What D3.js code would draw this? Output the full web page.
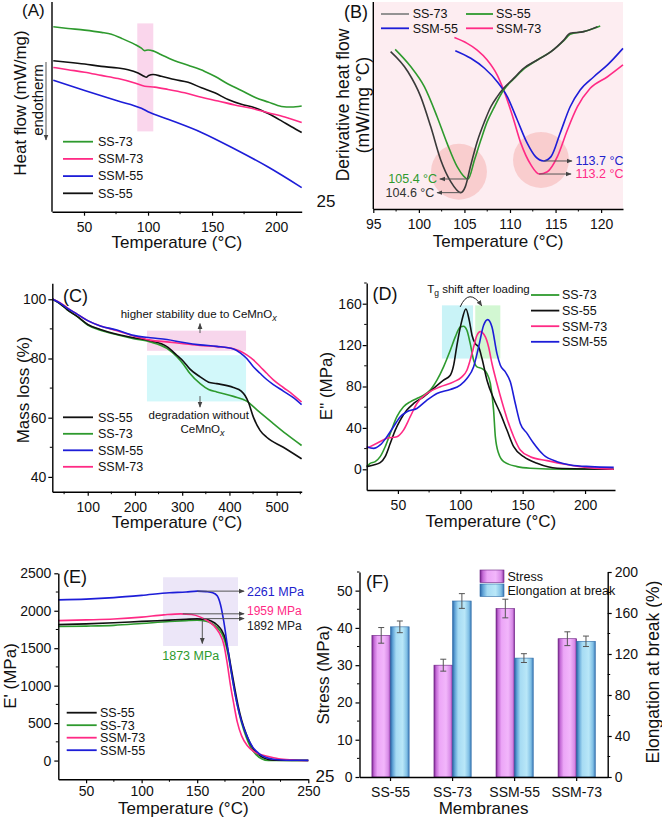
<!DOCTYPE html>
<html><head><meta charset="utf-8">
<script src="https://cdn.jsdelivr.net/npm/d3@7"></script>
<style>
body{margin:0;background:#fff;}
svg{display:block;}
</style></head><body>
<svg id="chart" width="662" height="823"></svg>
<script>
// ---------------- DATA ----------------
// (A) DSC heat flow  [temperature °C, relative heat flow]
const heatSS73  = [[26,88.2],[37.5,87.4],[50.5,86.6],[63.5,85.5],[71.4,84.6],[79.2,82.7],[89.6,79.8],[94.8,78],[97.4,76.8],[100,77.1],[103.9,76.7],[110.4,74.8],[120.8,72],[131.3,69.8],[144.3,66.9],[152.1,64.6],[162.5,60.9],[172.9,57.8],[183.3,54.6],[193.8,52.3],[204.2,50.2],[212,49.9],[220,50.4]];
const heatSS55  = [[26,72],[37.5,71.3],[50.5,70.4],[63.5,69.3],[76.6,68.5],[84.4,67.7],[92.2,66.1],[96.9,64.6],[98.7,64.1],[100.5,65],[103.9,65.4],[110.4,64.6],[120.8,63],[131.3,61.7],[141.7,59.1],[152.1,56.7],[162.5,53.5],[172.9,51.2],[183.3,49.6],[193.8,46.8],[204.2,43.3],[212,40.5],[220,37.8]];
const heatSSM73 = [[26,68.8],[37.5,67.7],[50.5,66.5],[63.5,65],[76.6,63.5],[89.6,61.4],[97.4,59.8],[105.2,59.4],[115.6,58.3],[128.6,56.7],[141.7,54.6],[154.7,52.8],[167.7,50.9],[180.7,49.3],[193.8,47.2],[206.8,45.2],[220,42.5]];
const heatSSM55 = [[26,62.7],[50.5,57.8],[76.6,52.8],[94.8,49.3],[100,47.7],[115.6,44.1],[141.7,37.8],[167.7,29.9],[193.8,21.3],[220,11.5]];
const heatBand  = [91.6, 104.1, 38.3, 89.8];

// (B) derivative heat flow
const derivSS73  = [[96.9,76],[98.8,66.3],[100.2,54.3],[101.3,39.8],[102.4,23.7],[103.5,13.2],[104.6,7.9],[105.1,10.8],[105.7,21.3],[106.4,32.5],[107.2,42.2],[107.9,49.4],[108.6,54.3],[109.3,58.3],[110.4,63.1],[111.5,68],[113,72],[114.5,76],[115.9,81.6],[116.6,84.9],[118.1,85.7],[119.6,88.1]];
const derivSS55  = [[97.4,77.1],[99.1,68.8],[100.6,59.1],[102,44.6],[103.1,31.7],[104.2,20.5],[105.4,14.5],[106.1,23.7],[106.8,33.3],[107.5,42.2],[108.2,48.6],[109.3,57.5],[110.4,62.8],[111.5,67.6],[113,72],[114.5,76],[115.9,81.3],[116.6,84.4],[118.1,85.7],[119.9,88.4]];
const derivSSM55 = [[104,76.5],[105.7,72.8],[107.2,68],[108.6,61.5],[109.7,54.3],[110.8,43],[111.9,31.7],[112.8,25.3],[113.7,23.2],[114.5,25.3],[115.5,36.6],[116.6,49.4],[117.7,57.5],[119.2,63.9],[120.7,69.6],[122.4,77.6]];
const derivSSM73 = [[103.9,82.8],[105.3,80],[106.4,76.8],[107.5,72],[108.6,64.7],[109.3,57.5],[110.3,44.6],[111.2,31.7],[112.3,21.3],[113.2,16.9],[114.1,18],[115.2,25.3],[116.3,38.2],[117.4,49.4],[118.8,58.3],[120.7,63.9],[122.4,69.6]];
const derivPeaks = [[105.4,14.5,"105.4 °C"],[104.6,7.9,"104.6 °C"],[113.7,23.2,"113.7 °C"],[113.2,16.9,"113.2 °C"]];
const derivCircles = [[104.4,18],[113.4,23.7]];

// (C) TGA mass loss
const massSS55  = [[26,100],[42.3,98.4],[56.3,96.5],[77.5,94.2],[100,91.5],[126.8,89.8],[162,88.2],[197.2,87],[232.4,86],[267.6,84],[288.7,81.1],[302.8,79],[316,76.5],[338,73.8],[356,72],[373.2,71.5],[408.5,70.2],[425,69],[433,67.5],[440,65.3],[450.7,60.2],[464.8,55.7],[478.9,53.4],[514.1,50],[552.8,46.1]];
const massSS73  = [[26,100],[42.3,98.4],[56.3,96.5],[77.5,94.2],[100,91.3],[126.8,89.5],[162,88],[197.2,86.7],[232.4,85.6],[267.6,83.4],[288.7,80.6],[302.8,78],[316,75],[338,71.5],[356,69.5],[373.2,68.7],[408.5,67.2],[436.6,65.6],[460,62.4],[490,58.4],[520,54.5],[552.8,50.6]];
const massSSM55 = [[26,100],[42.3,98.6],[56.3,97],[77.5,95],[100,92.8],[126.8,91],[162,89.6],[197.2,87.8],[232.4,87],[267.6,86.4],[302.8,85.4],[338,84.6],[373.2,84.1],[408.5,83.2],[422,82],[436.6,80],[450.7,77.2],[464.8,75],[478.9,72.9],[493,71.2],[514.1,69],[533,67],[552.8,64.4]];
const massSSM73 = [[26,100],[42.3,98.8],[56.3,97.2],[77.5,95],[100,92.8],[126.8,91],[162,89.4],[197.2,87.6],[232.4,86.2],[267.6,85.6],[302.8,85],[338,84.4],[373.2,84],[408.5,83.3],[422,82.5],[436.6,81.2],[450.7,79.5],[464.8,77.3],[478.9,75],[493,72.8],[514.1,70.2],[533,68],[552.8,65.3]];
const massBoxes = [[225.4,435.2,82.6,89.4],[225.4,435.2,65.5,81.1]];

// (D) loss modulus E''
const lossSS73  = [[25,2.6],[27.8,5.8],[31.8,7.4],[35.8,12.2],[39.8,21.8],[43.9,34.7],[49.2,50.8],[54.5,60.4],[59.9,65.2],[65.2,68.4],[70.6,71.6],[75.9,76.5],[81.3,86.1],[86.6,99],[92,115],[96,127.9],[100,137.5],[102.7,138.2],[105.3,134.3],[108,121.4],[110.7,105.4],[113.4,99],[117.4,97.3],[121.4,92.5],[124.1,82.9],[126.7,57.2],[128.1,31.5],[130.7,15.4],[134.8,7.4],[145.5,2.6],[156.1,1],[182.9,0],[223,0]];
const lossSS55  = [[25,2.6],[30.5,4.2],[35.8,6.4],[39.8,12.2],[43.9,25.1],[47.9,37.9],[51.9,47.6],[57.2,57.2],[62.6,63.6],[70.6,70],[78.6,78.1],[86.6,86.1],[92,90.9],[94.7,100.6],[97.3,119.8],[101.3,143.9],[104.5,154.9],[107.2,143.9],[109.4,129.5],[112,121.4],[114.7,118.2],[117.4,107],[121.4,86.1],[126.7,68.4],[132.1,54],[137.4,37.9],[142.8,21.8],[150.8,12.2],[161.5,5.8],[177.5,1],[223,0]];
const lossSSM73 = [[25,20.2],[33.2,25.1],[41.2,29.9],[49.2,31.5],[54.5,37.9],[59.9,50.8],[65.2,63.6],[73.3,73.3],[84,79.7],[94.7,84.5],[101.3,89.3],[105.3,95.7],[109.4,111.8],[113.4,129.5],[116,133],[120.1,127.9],[122.7,118.2],[125.4,102.2],[129.4,82.9],[133.4,65.2],[137.4,49.2],[142.8,31.5],[148.1,18.6],[156.1,12.2],[169.5,8.4],[182.9,5.1],[196.3,2.6],[223,0]];
const lossSSM55 = [[25,21.8],[30.5,20.2],[35.8,23.5],[41.2,31.5],[46.5,41.1],[51.9,50.8],[57.2,55.6],[65.2,58.8],[73.3,66.8],[81.3,73.3],[92,77.1],[100,81.3],[105.3,87.7],[110.7,99],[114.7,118.2],[118.7,139.1],[122,144.6],[125.4,137.5],[129.4,111.8],[132.1,100.6],[136.1,94.1],[140.1,84.5],[144.1,63.6],[148.1,44.3],[153.5,34.7],[158.8,25.1],[166.8,13.8],[177.5,7.4],[188.2,4.2],[204.3,2.6],[223,1.9]];
const lossBoxes = [[85.3,110.2,107,158.4],[112,132.1,107,158.4]];

// (E) storage modulus E'
const storSS55  = [[25,1815],[50,1825],[75,1840],[100,1858],[125,1875],[140,1886],[150,1892],[158,1885],[163,1860],[168,1810],[172,1740],[175,1640],[178,1450],[181,1200],[184,950],[187,720],[190,540],[194,360],[198,220],[203,110],[208,50],[214,15],[220,5],[235,3],[250,0]];
const storSS73  = [[25,1790],[50,1795],[75,1805],[100,1830],[125,1857],[140,1868],[150,1873],[158,1860],[163,1830],[168,1775],[172,1700],[175,1590],[178,1400],[181,1150],[184,900],[187,680],[190,500],[194,320],[198,180],[203,80],[208,25],[214,0],[220,0],[235,3],[250,2]];
const storSSM73 = [[25,1868],[50,1878],[75,1890],[100,1915],[120,1945],[135,1959],[145,1950],[153,1915],[160,1860],[165,1800],[170,1700],[174,1550],[177,1300],[180,1000],[183,750],[186,520],[190,330],[195,200],[200,130],[207,80],[215,50],[225,20],[240,5],[250,0]];
const storSSM55 = [[25,2145],[50,2155],[75,2175],[100,2205],[125,2240],[140,2250],[150,2262],[158,2255],[164,2240],[168,2200],[171,2080],[174,1850],[177,1550],[180,1250],[183,980],[186,750],[190,520],[195,320],[200,180],[206,90],[212,40],[220,15],[235,5],[250,3]];
const storBox = [119.3, 186.7, 1530, 2447];

// (F) mechanical properties
const membranes   = ["SS-55","SS-73","SSM-55","SSM-73"];
const stress      = [38, 30, 45.2, 37.1];
const stressErr   = [2.1, 1.6, 2.5, 1.85];
const elongation  = [146.5, 171.7, 116, 132.4];
const elongErr    = [5.7, 7.2, 4.3, 5.1];

// ---------------- STYLE ----------------
const FONT = "'Liberation Sans', Arial, Helvetica, sans-serif";
const C_GREEN = "#2e9a2e", C_PINK = "#ff2a85", C_BLUE = "#1d1dd8", C_BLACK = "#111111", C_GRAY = "#3a3a3a";
const svg = d3.select("#chart").attr("font-family", FONT);
const fmt = d3.format("d");

const defs = svg.append("defs");
defs.append("marker").attr("id","arr").attr("viewBox","0 0 10 10").attr("refX",9).attr("refY",5)
  .attr("markerWidth",6).attr("markerHeight",6).attr("markerUnits","userSpaceOnUse").attr("orient","auto")
  .append("path").attr("d","M0,1 L10,5 L0,9 Z").attr("fill","#444");

function curve(g, x, y, data, color, w=1.6){
  g.append("path").datum(data).attr("fill","none").attr("stroke",color).attr("stroke-width",w)
   .attr("stroke-linejoin","round")
   .attr("d", d3.line().x(d=>x(d[0])).y(d=>y(d[1])).curve(d3.curveMonotoneX));
}
function styleAxis(a){
  a.attr("font-family",FONT).attr("font-size",14);
  a.select(".domain").attr("stroke","#000").attr("stroke-width",1.4);
  a.selectAll(".tick line").attr("stroke","#000").attr("stroke-width",1.2);
  a.selectAll(".tick text").attr("fill","#111");
}
function xAxis(g, x, y0, majors, minors, pad){
  const a = g.append("g").attr("transform",`translate(0,${y0})`)
    .call(d3.axisBottom(x).tickValues(majors).tickFormat(fmt).tickSize(4).tickSizeOuter(0).tickPadding(pad));
  styleAxis(a);
  a.selectAll(".mn").data(minors).join("line").attr("class","mn")
    .attr("x1",d=>x(d)).attr("x2",d=>x(d)).attr("y1",0).attr("y2",2.5).attr("stroke","#000").attr("stroke-width",1);
  return a;
}
function yAxis(g, y, x0, majors, minors, pad, right=false){
  const gen = right ? d3.axisRight(y) : d3.axisLeft(y);
  const a = g.append("g").attr("transform",`translate(${x0},0)`)
    .call(gen.tickValues(majors).tickFormat(fmt).tickSize(4).tickSizeOuter(0).tickPadding(pad));
  styleAxis(a);
  a.selectAll(".mn").data(minors).join("line").attr("class","mn")
    .attr("y1",d=>y(d)).attr("y2",d=>y(d)).attr("x1",0).attr("x2",right?2.5:-2.5).attr("stroke","#000").attr("stroke-width",1);
  return a;
}
function plainY(g, x0, r){
  g.append("line").attr("x1",x0).attr("x2",x0).attr("y1",r[0]).attr("y2",r[1]).attr("stroke","#000").attr("stroke-width",1.4);
}
function txt(g, x, y, s, opt={}){
  const t = g.append("text").attr("x",x).attr("y",y).text(s)
    .attr("font-size",opt.fs||17).attr("fill",opt.fill||"#111")
    .attr("text-anchor",opt.anchor||"start");
  if(opt.dy) t.attr("dy",opt.dy);
  if(opt.rot) t.attr("transform",`rotate(-90,${x},${y})`);
  return t;
}
function legend(g, items, x1, x2, tx, y0, dy, fs=12.5){
  items.forEach(([name,color],i)=>{
    const y = y0 + i*dy;
    g.append("line").attr("x1",x1).attr("x2",x2).attr("y1",y).attr("y2",y).attr("stroke",color).attr("stroke-width",1.8);
    txt(g, tx, y, name, {fs, dy:"0.35em"});
  });
}
function arrow(g, x1,y1,x2,y2){
  g.append("line").attr("x1",x1).attr("y1",y1).attr("x2",x2).attr("y2",y2)
   .attr("stroke","#555").attr("stroke-width",1).attr("marker-end","url(#arr)");
}

// ---------------- PANEL A ----------------
{
  const g = svg.append("g");
  const x = d3.scaleLinear().domain([25,220]).range([52,301.7]);
  const y = d3.scaleLinear().domain([0,100]).range([211.7,2]);
  g.append("rect").attr("x",x(heatBand[0])).attr("width",x(heatBand[1])-x(heatBand[0]))
    .attr("y",y(heatBand[3])).attr("height",y(heatBand[2])-y(heatBand[3])).attr("fill","#fad6ec");
  curve(g,x,y,heatSS73,C_GREEN);
  curve(g,x,y,heatSS55,C_BLACK);
  curve(g,x,y,heatSSM73,C_PINK);
  curve(g,x,y,heatSSM55,C_BLUE);
  plainY(g, 52, y.range());
  xAxis(g, x, 211.7, [50,100,150,200], [75,125,175], 6);
  txt(g, x(122.5), 248, "Temperature (°C)", {anchor:"middle"});
  txt(g, 26, 103, "Heat flow (mW/mg)", {anchor:"middle", rot:true});
  txt(g, 43, 100, "endotherm", {anchor:"middle", rot:true, fs:15});
  arrow(g, 46, 62, 46, 140);
  legend(g, [["SS-73",C_GREEN],["SSM-73",C_PINK],["SSM-55",C_BLUE],["SS-55",C_BLACK]], 63, 93, 98, 141.7, 17.2);
  txt(g, 22, 15.5, "(A)", {fs:17});
  txt(g, 316.5, 206.7, "25", {fs:17});
}

// ---------------- PANEL B ----------------
{
  const g = svg.append("g");
  const x = d3.scaleLinear().domain([95,122.4]).range([373.3,623]);
  const y = d3.scaleLinear().domain([0,100]).range([209,2]);
  g.append("rect").attr("x",x.range()[0]).attr("width",x.range()[1]-x.range()[0])
    .attr("y",y.range()[1]).attr("height",y.range()[0]-y.range()[1]).attr("fill","#fdedf1");
  g.selectAll(".circ").data(derivCircles).join("circle").attr("class","circ")
    .attr("cx",d=>x(d[0])).attr("cy",d=>y(d[1])).attr("r",d=>x(d[0]+3.07)-x(d[0]))
    .attr("fill","#f8c4c6").attr("opacity",0.8);
  curve(g,x,y,derivSSM73,C_PINK);
  curve(g,x,y,derivSSM55,C_BLUE);
  curve(g,x,y,derivSS55,C_GREEN);
  curve(g,x,y,derivSS73,C_GRAY);
  plainY(g, 373.3, y.range());
  xAxis(g, x, 209, [95,100,105,110,115,120], [97.5,102.5,107.5,112.5,117.5], 6);
  txt(g, x(108.7), 247, "Temperature (°C)", {anchor:"middle"});
  txt(g, 349, 105, "Derivative heat flow", {anchor:"middle", rot:true, fs:17.5});
  txt(g, 368.5, 105, "(mW/mg °C)", {anchor:"middle", rot:true, fs:17.5});
  // peak annotations
  const pc = [C_GREEN, "#333", "#2222cc", C_PINK];
  const tip = [102.3, 102.0, 116.8, 116.7];
  const lab = [102.0, 101.7, 117.2, 117.2];
  derivPeaks.forEach((p,i)=>{
    arrow(g, x(p[0]), y(p[1]), x(tip[i]), y(p[1]));
    txt(g, x(lab[i]), y(p[1]), p[2], {fs:12.5, fill:pc[i], dy:"0.35em", anchor: i<2 ? "end" : "start"});
  });
  // legend
  const lg = [["SS-73","#888",381,409,412.7,14],["SS-55",C_GREEN,466,493,496,14],["SSM-55",C_BLUE,381,409,412.7,28.3],["SSM-73",C_PINK,466,493,496,28.3]];
  lg.forEach(l=>{
    g.append("line").attr("x1",l[2]).attr("x2",l[3]).attr("y1",l[5]).attr("y2",l[5]).attr("stroke",l[1]).attr("stroke-width",1.8);
    txt(g, l[4], l[5], l[0], {fs:12.5, dy:"0.35em"});
  });
  txt(g, 344, 17.5, "(B)", {fs:18});
}

// ---------------- PANEL C ----------------
{
  const g = svg.append("g");
  const x = d3.scaleLinear().domain([25,553]).range([52.3,301.7]);
  const y = d3.scaleLinear().domain([35,105.4]).range([491.7,283.3]);
  const boxCol = ["#f7d6ec","#d2f8fa"];
  massBoxes.forEach((b,i)=>{
    g.append("rect").attr("x",x(b[0])).attr("width",x(b[1])-x(b[0])).attr("y",y(b[3])).attr("height",y(b[2])-y(b[3])).attr("fill",boxCol[i]);
  });
  curve(g,x,y,massSS73,C_GREEN);
  curve(g,x,y,massSS55,C_BLACK);
  curve(g,x,y,massSSM73,C_PINK);
  curve(g,x,y,massSSM55,C_BLUE);
  yAxis(g, y, 52.3, [40,60,80,100], [50,70,90], 2);
  xAxis(g, x, 491.7, [100,200,300,400,500], [50,150,250,350,450,550], 6);
  txt(g, x(289), 528.3, "Temperature (°C)", {anchor:"middle"});
  txt(g, 29, 390, "Mass loss (%)", {anchor:"middle", rot:true});
  const t1 = txt(g, x(335), y(93.6), "higher stability due to CeMnO", {anchor:"middle", fs:11.5});
  t1.append("tspan").attr("font-style","italic").attr("font-size",9).attr("dy",3).text("x");
  arrow(g, x(337.7), y(88.6), x(337.7), y(91.8));
  arrow(g, x(337.7), y(67.3), x(337.7), y(63.6));
  txt(g, x(335), y(59.5), "degradation without", {anchor:"middle", fs:11.5});
  const t2 = txt(g, x(343), y(54.7), "CeMnO", {anchor:"middle", fs:11.5});
  t2.append("tspan").attr("font-style","italic").attr("font-size",9).attr("dy",3).text("x");
  legend(g, [["SS-55",C_BLACK],["SS-73",C_GREEN],["SSM-55",C_BLUE],["SSM-73",C_PINK]], 63, 93, 98, 417.3, 16.5);
  txt(g, 63, 301.7, "(C)", {fs:18});
}

// ---------------- PANEL D ----------------
{
  const g = svg.append("g");
  const x = d3.scaleLinear().domain([25,224]).range([366.7,615]);
  const y = d3.scaleLinear().domain([-20,180]).range([490,283]);
  const boxCol = ["#c9f3f7","#d2f7d2"];
  lossBoxes.forEach((b,i)=>{
    g.append("rect").attr("x",x(b[0])).attr("width",x(b[1])-x(b[0])).attr("y",y(b[3])).attr("height",y(b[2])-y(b[3])).attr("fill",boxCol[i]);
  });
  curve(g,x,y,lossSS73,C_GREEN);
  curve(g,x,y,lossSS55,C_BLACK);
  curve(g,x,y,lossSSM73,C_PINK);
  curve(g,x,y,lossSSM55,C_BLUE);
  yAxis(g, y, 366.7, [0,40,80,120,160], [20,60,100,140,180], 1);
  xAxis(g, x, 490, [50,100,150,200], [75,125,175], 6);
  txt(g, x(124.5), 526.7, "Temperature (°C)", {anchor:"middle"});
  txt(g, 332, 386, "E\" (MPa)", {anchor:"middle", rot:true});
  // Tg annotation
  const t = txt(g, x(114.6), 293.3, "T", {anchor:"middle", fs:11.5});
  t.append("tspan").attr("font-size",8.5).attr("dy",3).text("g");
  t.append("tspan").attr("dy",-3).text(" shift after loading");
  g.append("path").attr("d",`M${x(99.9)},${y(156.9)} Q${x(107)},${y(176)} ${x(117.2)},${y(157.9)}`)
    .attr("fill","none").attr("stroke","#222").attr("stroke-width",1).attr("marker-end","url(#arr)");
  legend(g, [["SS-73",C_GREEN],["SS-55",C_BLACK],["SSM-73",C_PINK],["SSM-55",C_BLUE]], 531, 559.3, 562, 295, 15.6);
  txt(g, 372.5, 300, "(D)", {fs:18});
}

// ---------------- PANEL E ----------------
{
  const g = svg.append("g");
  const x = d3.scaleLinear().domain([25,250]).range([58.3,308.3]);
  const y = d3.scaleLinear().domain([-250,2500]).range([779.3,573.3]);
  g.append("rect").attr("x",x(storBox[0])).attr("width",x(storBox[1])-x(storBox[0]))
    .attr("y",y(storBox[3])).attr("height",y(storBox[2])-y(storBox[3])).attr("fill","#ece6f8");
  curve(g,x,y,storSS73,C_GREEN);
  curve(g,x,y,storSS55,C_BLACK);
  curve(g,x,y,storSSM73,C_PINK);
  curve(g,x,y,storSSM55,C_BLUE);
  yAxis(g, y, 58.3, [0,500,1000,1500,2000,2500], [250,750,1250,1750,2250], 3);
  xAxis(g, x, 779.3, [50,100,150,200,250], [75,125,175,225], 3);
  txt(g, x(137.5), 814, "Temperature (°C)", {anchor:"middle"});
  txt(g, 16, 676, "E' (MPa)", {anchor:"middle", rot:true});
  arrow(g, x(150), y(2262), x(192.2), y(2262));
  arrow(g, x(137), y(1959), x(192.2), y(1959));
  arrow(g, x(155), y(1895), x(192.2), y(1895));
  arrow(g, x(154.6), y(1873), x(154.6), y(1563));
  txt(g, x(194.8), y(2262), "2261 MPa", {fs:12.5, fill:"#2222cc", dy:"0.35em"});
  txt(g, x(194.8), y(2005), "1959 MPa", {fs:12, fill:C_PINK, dy:"0.35em"});
  txt(g, x(194.8), y(1805), "1892 MPa", {fs:12, fill:"#222", dy:"0.35em"});
  txt(g, x(144.2), y(1343), "1873 MPa", {fs:12.5, fill:C_GREEN, anchor:"middle"});
  legend(g, [["SS-55",C_BLACK],["SS-73",C_GREEN],["SSM-73",C_PINK],["SSM-55",C_BLUE]], 66.7, 96.7, 100, 712.7, 12.5);
  txt(g, 63, 583.3, "(E)", {fs:18});
  txt(g, 315.5, 781.7, "25", {fs:17});
}

// ---------------- PANEL F ----------------
{
  const g = svg.append("g");
  const x = d3.scaleBand().domain(membranes).range([359.5,607.7]).padding(0);
  const yL = d3.scaleLinear().domain([0,55]).range([777,572]);
  const yR = d3.scaleLinear().domain([0,200]).range([777,572]);
  const bw = x.bandwidth()*0.3;
  const gs = defs.append("linearGradient").attr("id","gS");
  [[0,"#7a2590"],[0.12,"#c46ad6"],[0.3,"#eca6f7"],[0.65,"#f2b6fb"],[0.88,"#d88be7"],[1,"#8a34a0"]]
    .forEach(s=>gs.append("stop").attr("offset",s[0]).attr("stop-color",s[1]));
  const ge = defs.append("linearGradient").attr("id","gE");
  [[0,"#2a66a6"],[0.12,"#5fa2d6"],[0.3,"#a6dbf3"],[0.65,"#b9e7f8"],[0.88,"#7fbfe5"],[1,"#3a78b6"]]
    .forEach(s=>ge.append("stop").attr("offset",s[0]).attr("stop-color",s[1]));
  const c = d => x(d) + x.bandwidth()/2;
  g.selectAll(".bs").data(membranes).join("rect").attr("class","bs")
    .attr("x",d=>c(d)-bw).attr("width",bw).attr("y",(d,i)=>yL(stress[i])).attr("height",(d,i)=>yL(0)-yL(stress[i]))
    .attr("fill","url(#gS)").attr("stroke","#6a1f80").attr("stroke-width",0.6);
  g.selectAll(".be").data(membranes).join("rect").attr("class","be")
    .attr("x",d=>c(d)).attr("width",bw).attr("y",(d,i)=>yR(elongation[i])).attr("height",(d,i)=>yR(0)-yR(elongation[i]))
    .attr("fill","url(#gE)").attr("stroke","#2c6aa6").attr("stroke-width",0.6);
  function errbar(xc, top, bot){
    g.append("line").attr("x1",xc).attr("x2",xc).attr("y1",top).attr("y2",bot).attr("stroke","#555").attr("stroke-width",1);
    [top,bot].forEach(v=>g.append("line").attr("x1",xc-3).attr("x2",xc+3).attr("y1",v).attr("y2",v).attr("stroke","#555").attr("stroke-width",1));
  }
  membranes.forEach((m,i)=>{
    errbar(c(m)-bw/2, yL(stress[i]+stressErr[i]), yL(stress[i]-stressErr[i]));
    errbar(c(m)+bw/2, yR(elongation[i]+elongErr[i]), yR(elongation[i]-elongErr[i]));
  });
  yAxis(g, yL, 359.5, [0,10,20,30,40,50], [5,15,25,35,45,55], 3);
  yAxis(g, yR, 607.7, [0,40,80,120,160,200], [20,60,100,140,180], 3, true);
  const xa = g.append("g").attr("transform","translate(0,777)")
    .call(d3.axisBottom(x).tickSize(4).tickSizeOuter(0).tickPadding(6));
  styleAxis(xa);
  txt(g, 483.6, 814, "Membranes", {anchor:"middle"});
  txt(g, 329, 675, "Stress (MPa)", {anchor:"middle", rot:true});
  txt(g, 659, 672, "Elongation at break (%)", {anchor:"middle", rot:true, fs:17.5});
  // legend
  g.append("rect").attr("x",480).attr("y",570).attr("width",24).attr("height",12.5).attr("fill","url(#gS)").attr("stroke","#6a1f80").attr("stroke-width",0.6);
  g.append("rect").attr("x",480).attr("y",584).attr("width",24).attr("height",12.5).attr("fill","url(#gE)").attr("stroke","#2c6aa6").attr("stroke-width",0.6);
  txt(g, 507.5, 576.3, "Stress", {fs:12.5, dy:"0.35em"});
  txt(g, 507.5, 590.3, "Elongation at break", {fs:12.5, dy:"0.35em"});
  txt(g, 366, 588.3, "(F)", {fs:18});
}
</script>
</body></html>
